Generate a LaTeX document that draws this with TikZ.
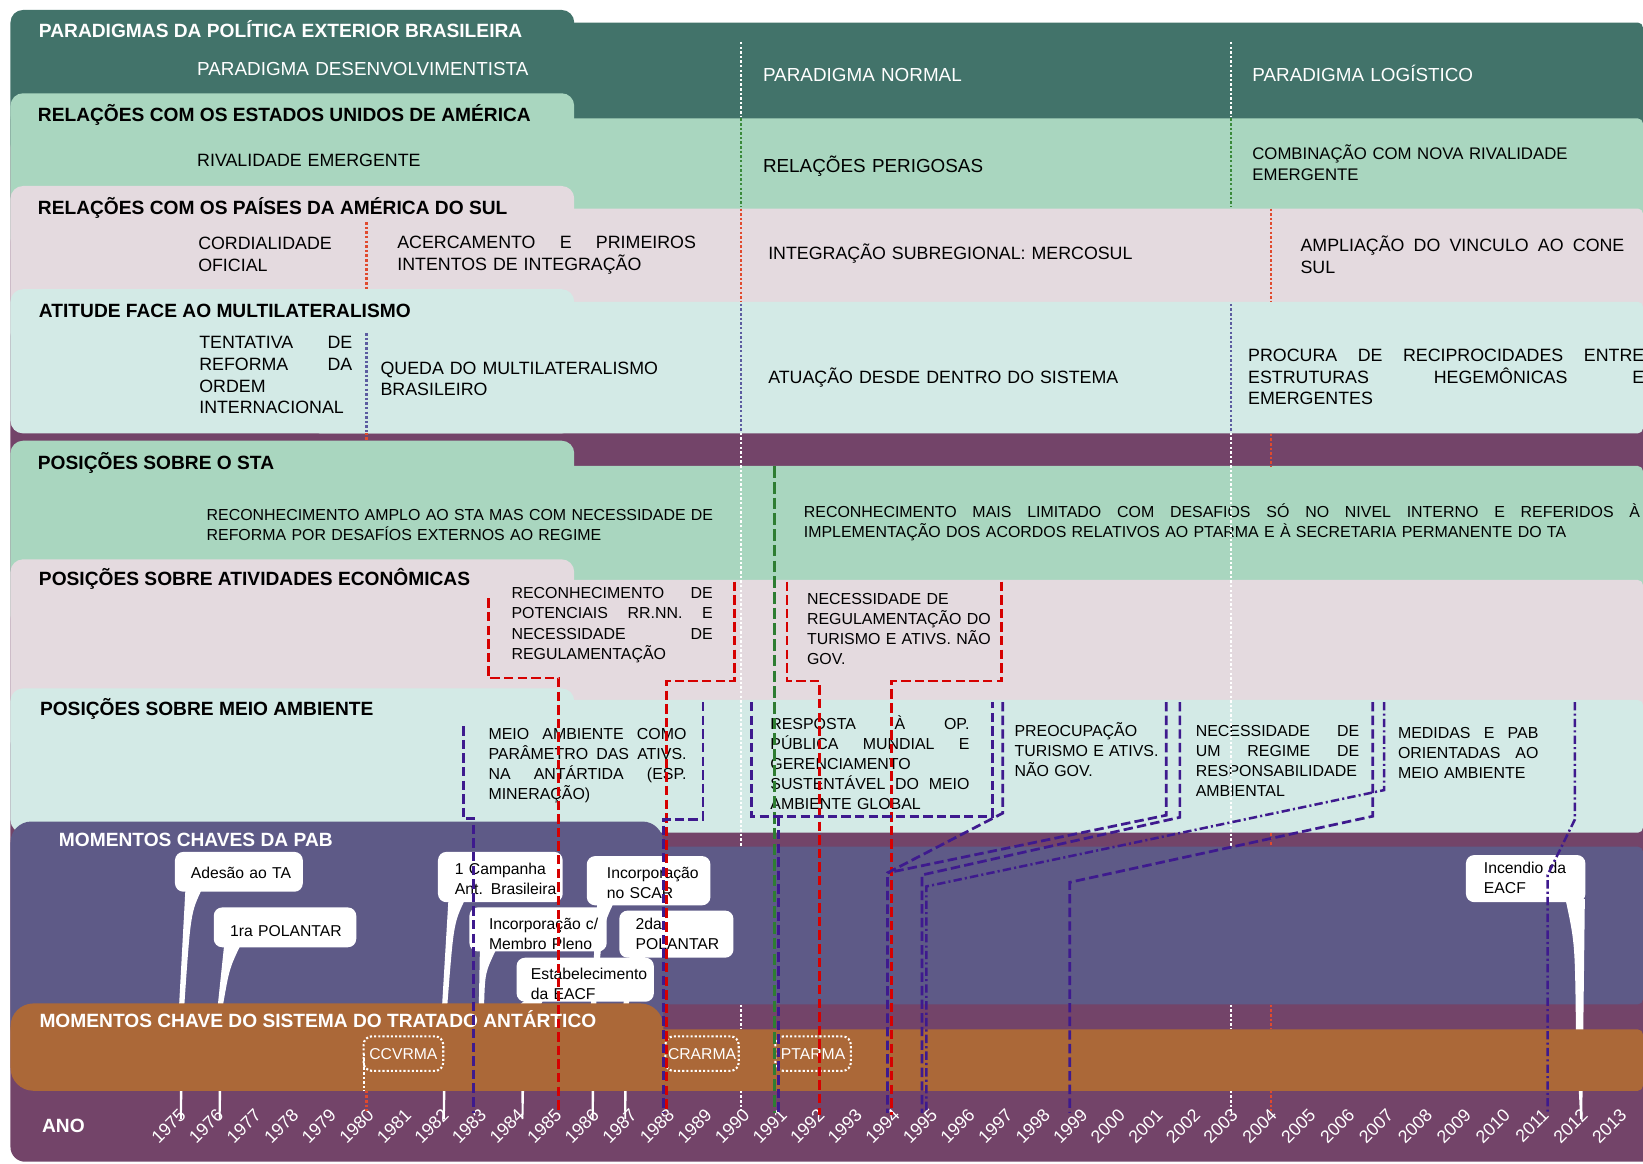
\documentclass[tikz,border=0pt]{standalone}
\usepackage{fontspec}
\setmainfont{Liberation Sans}
\definecolor{paradigm}{HTML}{42736A}
\definecolor{mint}{HTML}{A9D6BF}
\definecolor{rose}{HTML}{E4DADF}
\definecolor{aqua}{HTML}{D3EAE6}
\definecolor{plum}{HTML}{734469}
\definecolor{slate}{HTML}{5E5A87}
\definecolor{rust}{HTML}{AB6838}
\definecolor{evred}{HTML}{D60000}
\definecolor{evpurple}{HTML}{3E1A8E}
\definecolor{evgreen}{HTML}{2E7D32}
\definecolor{divred}{HTML}{E04A2E}
\definecolor{divblue}{HTML}{5C5CA0}
\definecolor{divgreen}{HTML}{3A8A3A}
\newcommand{\jline}[2]{\makebox[#1pt][s]{\spaceskip=0.278em plus 1fil\relax #2}}
\newcommand{\pabnote}[6]{%
  \fill[white,rounded corners=8pt] (#1,#2) rectangle (#3,#4);
  \fill[white] (#1+10,#4-3) -- (#1+26,#4-3) .. controls (#1+15,#4+20) .. (#5+5,958)
    -- (#5+2.5,#6) -- (#5+0.8,#6) -- (#5,958) -- cycle;}
\tikzset{
  hdr/.style={anchor=base west,inner sep=0pt,font=\bfseries\fontsize{18.3}{21}\selectfont},
  lbl/.style={anchor=base west,inner sep=0pt,align=left,text width=830pt,font=\fontsize{17}{20.7}\selectfont},
  big/.style={lbl,font=\fontsize{18}{21}\selectfont},
  sml/.style={anchor=base west,inner sep=0pt,align=left,text width=830pt,font=\fontsize{15.2}{19.2}\selectfont},
  bubtxt/.style={anchor=base west,inner sep=0pt,align=left,text width=200pt,font=\fontsize{15}{19}\selectfont},
  stabox/.style={draw=white,line width=2pt,dash pattern=on 2pt off 2pt,rounded corners=8pt,
    inner sep=0pt,minimum height=33pt,text=white,font=\fontsize{15}{17}\selectfont},
  yearlbl/.style={anchor=north east,inner sep=0pt,rotate=45,text=white,font=\fontsize{17}{19}\selectfont},
  divline/.style={line width=2.4pt,dash pattern=on 2.4pt off 2pt},
  redline/.style={evred,line width=2.6pt,dash pattern=on 9pt off 4pt},
  greenline/.style={evgreen,line width=2.2pt,dash pattern=on 11pt off 4pt},
  purpleline/.style={evpurple,line width=2.6pt,dash pattern=on 9pt off 4pt},
  purpledot/.style={evpurple,line width=2.4pt,dash pattern=on 8pt off 3pt on 2pt off 3pt},
}
\begin{document}
\begin{tikzpicture}[x=1pt,y=-1pt]
\useasboundingbox (0,0) rectangle (1568,1110);
% bands
\fill[plum,rounded corners=14pt] (10,100) rectangle (1600,1108.7);
\foreach \col/\ytab/\ybody/\ybot in {paradigm/9.5/21.5/150, mint/89/113/240, rose/177.5/199/330,
    aqua/276/288/413.6, mint/420.6/444.7/600, rose/533.8/553.5/720, aqua/657/668/794.7}{
  \fill[\col,rounded corners=12pt] (10,\ytab) rectangle (548,\ybot);
  \fill[\col,rounded corners=5pt] (300,\ybody) rectangle (1568,\ybot);
}
\fill[slate,rounded corners=20pt] (10,784) rectangle (633,1000);
\fill[slate,rounded corners=5pt] (300,808) rectangle (1568,958.5);
% momentos chaves da PAB
\pabnote{167}{813}{289}{851}{171}{1068}
\pabnote{204}{866}{340}{904}{208}{1068}
\pabnote{418}{813}{537}{861}{422}{1068}
\pabnote{560}{817}{678}{864}{564}{1068}
\pabnote{448}{866}{579}{908}{457}{1000}
\pabnote{591}{869}{700}{914}{595}{1068}
\pabnote{493}{914}{624}{956}{497}{1068}
\fill[white,rounded corners=8pt] (1399,816) rectangle (1513,861);
\fill[white] (1494,858) -- (1512.5,858) -- (1511,982) -- (1510,1068) -- (1508,1068)
  -- (1504,982) .. controls (1503,900) .. (1494,858) -- cycle;
\fill[rust,rounded corners=22pt] (10,957.6) rectangle (633,1041);
\fill[rust,rounded corners=5pt] (300,982.4) rectangle (1568,1041);
% momentos chave do STA
\node[stabox,minimum width=76pt] (ccvrma) at (385,1005.5) {CCVRMA};
\node[stabox,minimum width=70pt] (crarma) at (670,1005.5) {CRARMA};
\node[stabox,minimum width=72pt] (ptarma) at (776,1005.5) {PTARMA};
\draw[divline,white] ([xshift=1.5pt]ccvrma.west) -- ++(0,35.5);
% textos
\node[hdr,text=white] (tparad) at (37,35.5) {PARADIGMAS DA POLÍTICA EXTERIOR BRASILEIRA};
\node[big,text=white] (pdes) at (188,72.5) {PARADIGMA DESENVOLVIMENTISTA};
\node[big,text=white] (pnor) at (728,78) {PARADIGMA NORMAL};
\node[big,text=white] (plog) at (1195,78) {PARADIGMA LOGÍSTICO};
\node[hdr] (teua) at (36,116) {RELAÇÕES COM OS ESTADOS UNIDOS DE AMÉRICA};
\node[lbl] (eua1) at (188,159) {RIVALIDADE EMERGENTE};
\node[big] (eua2) at (728,164.5) {RELAÇÕES PERIGOSAS};
\node[lbl,font=\fontsize{16}{20.5}\selectfont] (eua3) at (1195,152) {COMBINAÇÃO COM NOVA RIVALIDADE\\EMERGENTE};
\node[hdr] (tsul) at (36,205) {RELAÇÕES COM OS PAÍSES DA AMÉRICA DO SUL};
\node[lbl] (sul1) at (189,238) {CORDIALIDADE\\OFICIAL};
\node[lbl] (sul2) at (379,237) {\jline{285}{ACERCAMENTO E PRIMEIROS}\\INTENTOS DE INTEGRAÇÃO};
\node[lbl] (sul3) at (733,248) {INTEGRAÇÃO SUBREGIONAL: MERCOSUL};
\node[lbl] (sul4) at (1241,240) {\jline{309}{AMPLIAÇÃO DO VINCULO AO CONE}\\SUL};
\node[hdr] (tmul) at (37,303) {ATITUDE FACE AO MULTILATERALISMO};
\node[lbl] (mul1) at (190,333) {\jline{146}{TENTATIVA DE}\\\jline{146}{REFORMA DA}\\ORDEM\\INTERNACIONAL};
\node[lbl] (mul2) at (363,357) {QUEDA DO MULTILATERALISMO\\BRASILEIRO};
\node[lbl] (mul3) at (733,366) {ATUAÇÃO DESDE DENTRO DO SISTEMA};
\node[lbl] (mul4) at (1191,345) {\jline{378}{PROCURA DE RECIPROCIDADES ENTRE}\\\jline{378}{ESTRUTURAS HEGEMÔNICAS E}\\EMERGENTES};
\node[hdr] (tsta) at (36,448) {POSIÇÕES SOBRE O STA};
\node[sml] (sta1) at (197,497) {RECONHECIMENTO AMPLO AO STA MAS COM NECESSIDADE DE\\REFORMA POR DESAFÍOS EXTERNOS AO REGIME};
\node[sml] (sta2) at (767,494) {\jline{798}{RECONHECIMENTO MAIS LIMITADO COM DESAFIOS SÓ NO NIVEL INTERNO E REFERIDOS À}\\IMPLEMENTAÇÃO DOS ACORDOS RELATIVOS AO PTARMA E À SECRETARIA PERMANENTE DO TA};
\node[hdr] (teco) at (37,559) {POSIÇÕES SOBRE ATIVIDADES ECONÔMICAS};
\node[sml,font=\fontsize{15.2}{19.5}\selectfont] (eco1) at (488,571) {\jline{192}{RECONHECIMENTO DE}\\\jline{192}{POTENCIAIS RR.NN. E}\\\jline{192}{NECESSIDADE DE}\\REGULAMENTAÇÃO};
\node[sml,font=\fontsize{15.2}{19.1}\selectfont] (eco2) at (770,576.5) {NECESSIDADE DE\\REGULAMENTAÇÃO DO\\TURISMO E ATIVS. NÃO\\GOV.};
\node[hdr] (tma) at (38,683) {POSIÇÕES SOBRE MEIO AMBIENTE};
\node[sml] (ma1) at (466,705.5) {\jline{189}{MEIO AMBIENTE COMO}\\\jline{189}{PARÂMETRO DAS ATIVS.}\\\jline{189}{NA ANTÁRTIDA (ESP.}\\MINERAÇÃO)};
\node[sml] (ma2) at (735,696) {\jline{190}{RESPOSTA À OP.}\\\jline{190}{PÚBLICA MUNDIAL E}\\GERENCIAMENTO\\\jline{190}{SUSTENTÁVEL DO MEIO}\\AMBIENTE GLOBAL};
\node[sml] (ma3) at (968,703) {PREOCUPAÇÃO\\TURISMO E ATIVS.\\NÃO GOV.};
\node[sml] (ma4) at (1141,703) {\jline{156}{NECESSIDADE DE}\\\jline{156}{UM REGIME DE}\\RESPONSABILIDADE\\AMBIENTAL};
\node[sml] (ma5) at (1334,704.5) {\jline{134}{MEDIDAS E PAB}\\\jline{134}{ORIENTADAS AO}\\MEIO AMBIENTE};
\node[hdr,text=white] (tpab) at (56,807.5) {MOMENTOS CHAVES DA PAB};
\node[bubtxt] (adesao) at (182,838) {Adesão ao TA};
\node[bubtxt] (polantar1) at (219.5,894) {1ra POLANTAR};
\node[bubtxt] (campanha) at (434,835) {1 Campanha\\Ant. Brasileira};
\node[bubtxt] (membro) at (466.5,887.5) {Incorporação c/\\Membro Pleno};
\node[bubtxt] (scar) at (579,838) {Incorporação\\no SCAR};
\node[bubtxt] (polantar2) at (606.5,887.5) {2da\\POLANTAR};
\node[bubtxt] (eacf) at (506.5,934.5) {Estabelecimento\\da EACF};
\node[bubtxt] (incendio) at (1416,833.5) {Incendio da\\EACF};
\node[hdr,text=white] (tsis) at (37.5,980.5) {MOMENTOS CHAVE DO SISTEMA DO TRATADO ANTÁRTICO};
\node[hdr,text=white] (tano) at (40,1081) {ANO};
\foreach \yr in {1975,...,2013}{
  \pgfmathsetmacro{\yx}{\yr<2004 ? 170+35.857*(\yr-1975) : 1174+37.1*(\yr-2003)}
  \node[yearlbl] (y\yr) at (\yx,1057) {\yr};
}
% divisores dos paradigmas
\foreach \dx in {707,1175}{
  \draw[divline,white] (\dx,40) -- (\dx,112);
  \draw[divline,divgreen] (\dx,113) -- (\dx,198);
  \draw[divline,divblue] (\dx,290) -- (\dx,412);
  \draw[divline,white] (\dx,413) -- (\dx,808);
  \draw[divline,white] (\dx,959) -- (\dx,982);
  \draw[divline,white] (\dx,1041) -- (\dx,1060);
}
\draw[divline,divred] (707,199) -- (707,288);
\foreach \ya/\yb in {199/288,414/445,795/808,959/982,1041/1060}
  \draw[divline,divred] (1213,\ya) -- (1213,\yb);
\draw[divline,divred] (350,212) -- (350,277);
\draw[divline,divblue] (350,318) -- (350,412);
\draw[divline,divred] (350,413) -- (350,421);
\draw[divline,divred] (350,1041) -- (350,1060);
% atividades economicas
\draw[redline] (466,571) -- (466,647) -- (533,647) -- (533,1062);
\draw[redline] (701,555) -- (701,650) -- (636,650) -- (636,1062);
\draw[redline] (751,555) -- (751,650) -- (782,650) -- (782,1064);
\draw[redline] (956,555) -- (956,650) -- (851,650) -- (851,1064);
\draw[greenline] (739,445) -- (739,1062);
% meio ambiente
\draw[purpleline] (442,693) -- (442,781) -- (452,781) -- (452,1062);
\draw[purpleline] (671,670) -- (671,782) -- (633,782) -- (633,1062);
\draw[purpleline] (717,670) -- (717,779) -- (947,779) -- (947,670);
\draw[purpleline] (743,779) -- (743,1062);
\draw[purpleline] (957,670) -- (957,776) -- (847,833) -- (847,1062);
\draw[purpleline] (1113,670) -- (1113,778) -- (847,833);
\draw[purpleline] (1126,670) -- (1126,780) -- (880,835) -- (880,1062);
\draw[purpleline] (1310,670) -- (1310,779) -- (1021,842) -- (1021,1062);
\draw[purpledot] (1321,670) -- (1321,754) -- (884,846) -- (884,1062);
\draw[purpledot] (1503,670) -- (1503,782) -- (1477,835) -- (1477,1062);
\end{tikzpicture}
\end{document}
